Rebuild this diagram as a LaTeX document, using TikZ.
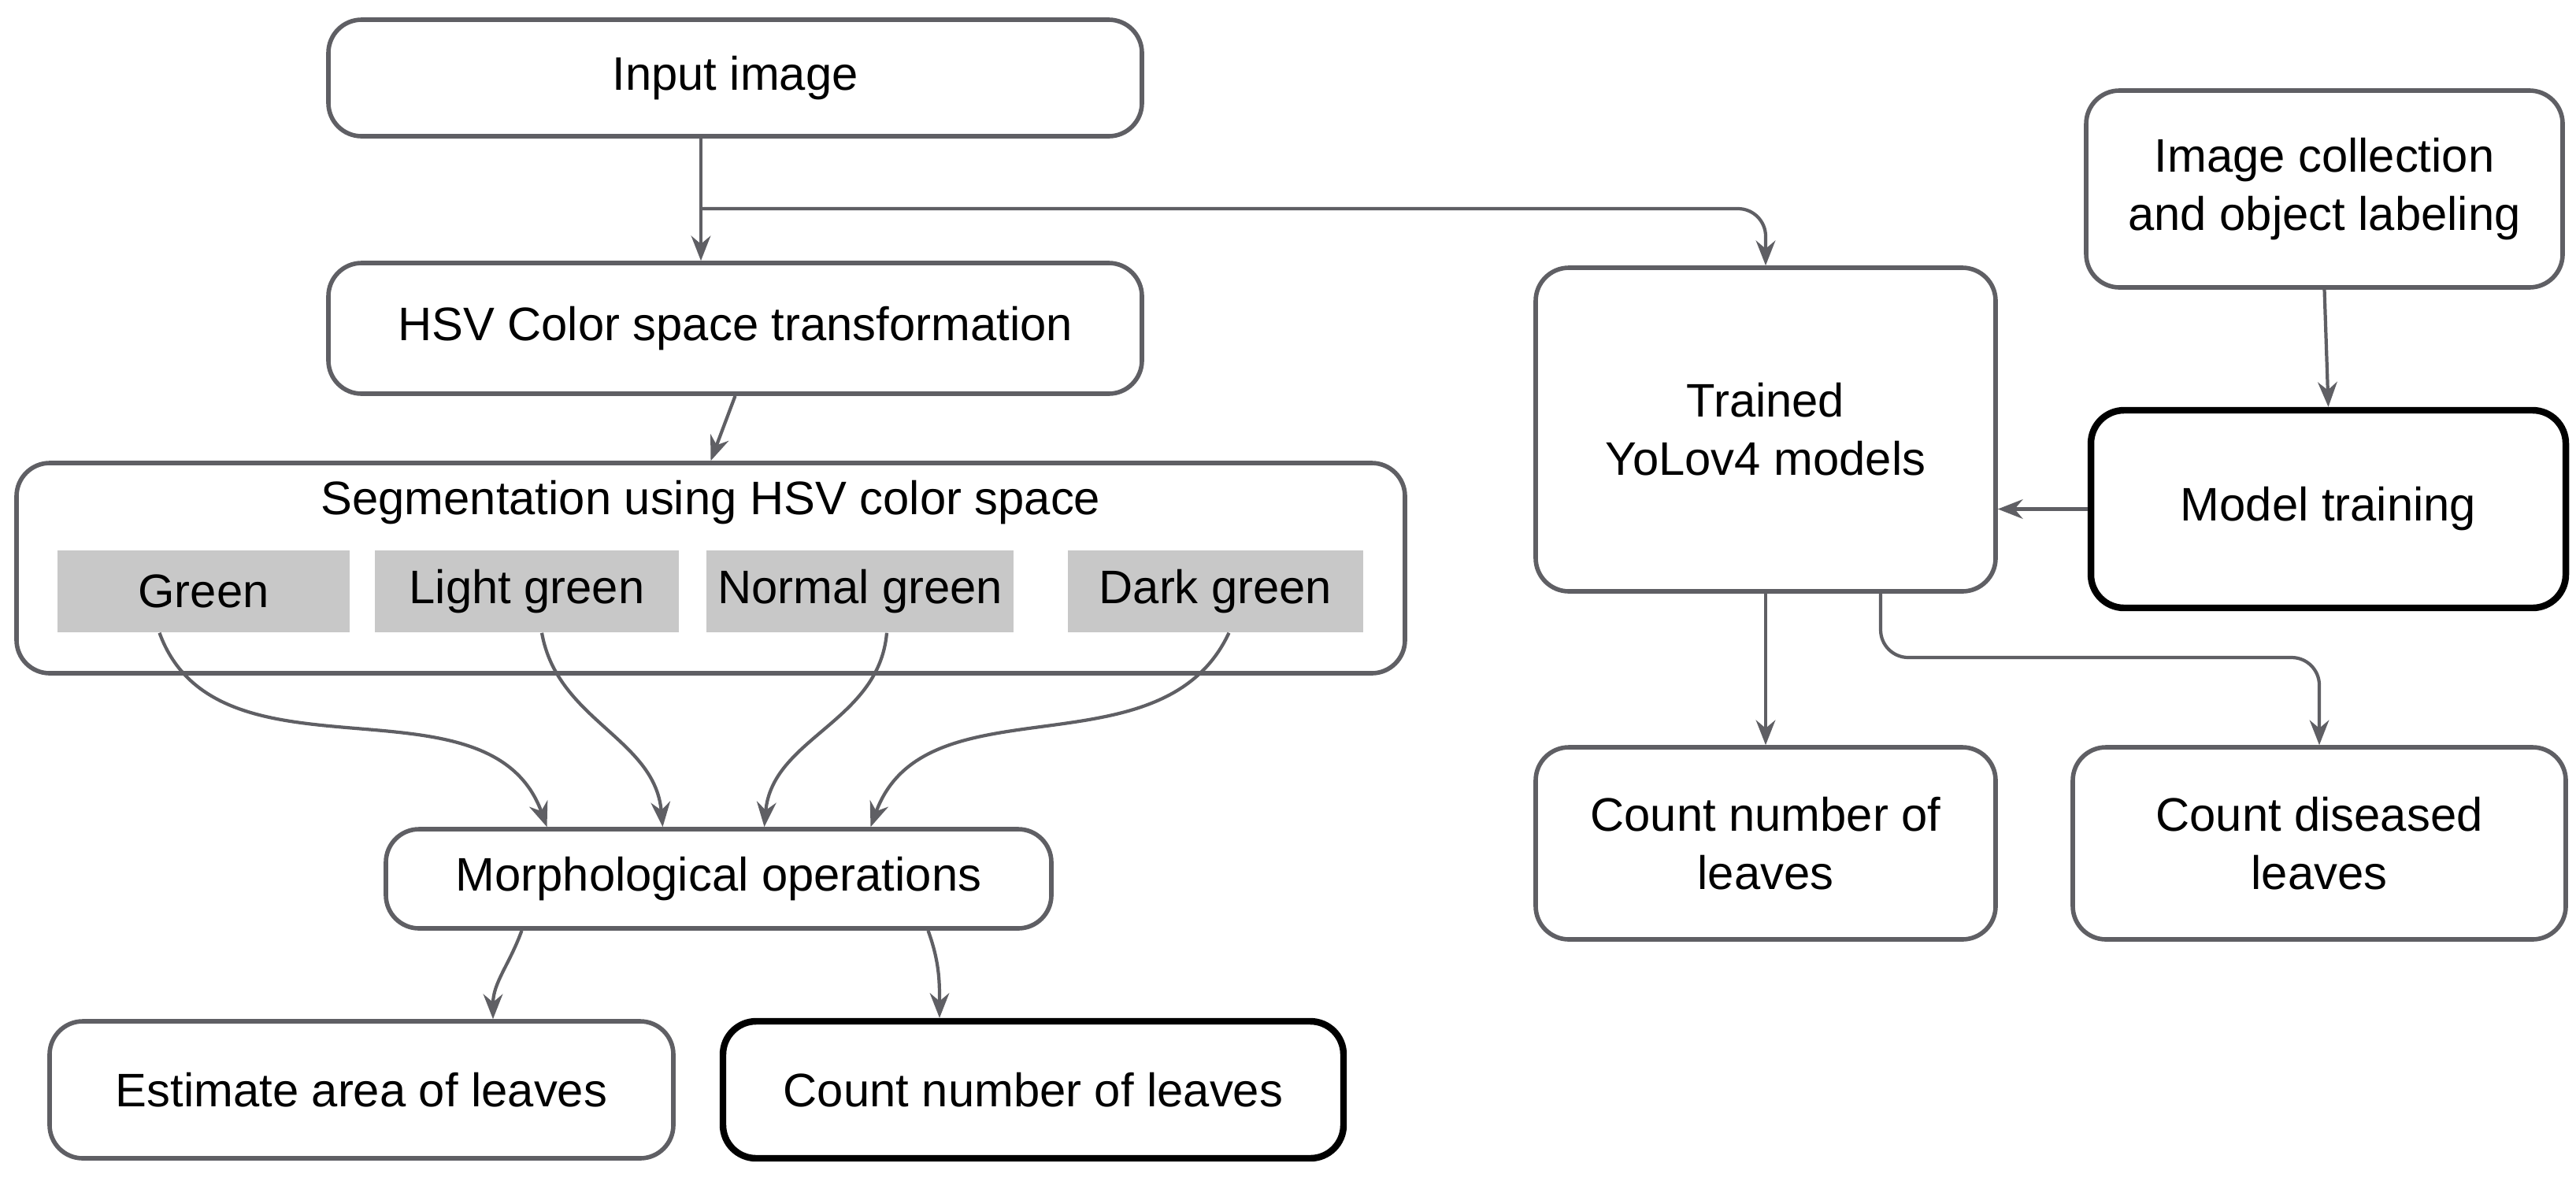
\documentclass[tikz,border=0pt]{standalone}
\usepackage{fontspec}
\setmainfont{Liberation Sans}
\usetikzlibrary{arrows.meta}
\definecolor{edge}{RGB}{95,95,100}
\definecolor{fillgray}{RGB}{200,200,200}
\begin{document}
\begin{tikzpicture}[font=\fontsize{17}{21}\selectfont,>={Stealth[length=9pt,width=7pt]},
  box/.style={draw=edge,line width=1.6pt,rounded corners=12pt,align=center,inner sep=2pt},
  bold/.style={box,draw=black,line width=2.4pt},
  tone/.style={fill=fillgray,inner sep=2pt,minimum height=1.04cm},
  arr/.style={->,edge,line width=1.2pt}]
  \useasboundingbox (0,0) rectangle (32.71,-15.09);

  \node[box,minimum width=10.33cm,minimum height=1.48cm] (input) at (9.335,-0.99) {Input image};
  \node[box,minimum width=10.33cm,minimum height=1.66cm] (hsv) at (9.335,-4.17) {HSV Color space transformation};
  \node[box,minimum width=17.63cm,minimum height=2.67cm] (seg) at (9.025,-7.215) {};
  \node (segt) at (9.025,-6.38) {Segmentation using HSV color space};
  \node[tone,minimum width=3.71cm] (green) at (2.585,-7.51) {Green};
  \node[tone,minimum width=3.86cm] (light) at (6.69,-7.51) {Light green};
  \node[tone,minimum width=3.90cm] (normal) at (10.92,-7.51) {Normal green};
  \node[tone,minimum width=3.75cm] (dark) at (15.435,-7.51) {Dark green};
  \node[box,minimum width=8.45cm,minimum height=1.26cm] (morph) at (9.125,-11.16) {Morphological operations};
  \node[box,minimum width=7.92cm,minimum height=1.74cm] (area) at (4.59,-13.84) {Estimate area of leaves};
  \node[bold,minimum width=7.88cm,minimum height=1.74cm] (count) at (13.12,-13.84) {Count number of leaves};

  \node[box,minimum width=5.84cm,minimum height=4.11cm] (trained) at (22.42,-5.455) {Trained\\YoLov4 models};
  \node[box,minimum width=6.05cm,minimum height=2.5cm] (collect) at (29.515,-2.4) {Image collection\\and object labeling};
  \node[bold,minimum width=6.03cm,minimum height=2.51cm] (training) at (29.565,-6.465) {Model training};
  \node[box,minimum width=5.84cm,minimum height=2.44cm] (yolocount) at (22.42,-10.71) {Count number of\\leaves};
  \node[box,minimum width=6.26cm,minimum height=2.44cm] (diseased) at (29.45,-10.71) {Count diseased\\leaves};

  \coordinate (split) at (8.9,-2.65);
  \coordinate (turn) at (23.88,-8.35);

  \draw[arr] (input.south -| split) -- (hsv.north -| split);
  \draw[arr,rounded corners=10pt] (split) -| (trained.north);
  \draw[arr] (hsv.south) -- (seg.north);

  \draw[arr] ([xshift=-0.56cm]green.south) to[out=-70,in=110] ([xshift=-2.18cm]morph.north);
  \draw[arr] ([xshift=0.19cm]light.south) to[out=-80,in=95] ([xshift=-0.71cm]morph.north);
  \draw[arr] ([xshift=0.34cm]normal.south) to[out=-95,in=85] ([xshift=0.58cm]morph.north);
  \draw[arr] ([xshift=0.17cm]dark.south) to[out=-115,in=70] ([xshift=1.93cm]morph.north);

  \draw[arr] ([xshift=-2.5cm]morph.south) to[out=-110,in=90] ([xshift=1.67cm]area.north);
  \draw[arr] ([xshift=2.66cm]morph.south) to[out=-70,in=90] ([xshift=-1.19cm]count.north);

  \draw[arr] (collect.south) -- (training.north);
  \draw[arr] (training.west) -- (training.west -| trained.east);
  \draw[arr] (trained.south) -- (yolocount.north);
  \draw[arr,rounded corners=10pt] (trained.south -| turn) -- (turn) -| (diseased.north);
\end{tikzpicture}
\end{document}
